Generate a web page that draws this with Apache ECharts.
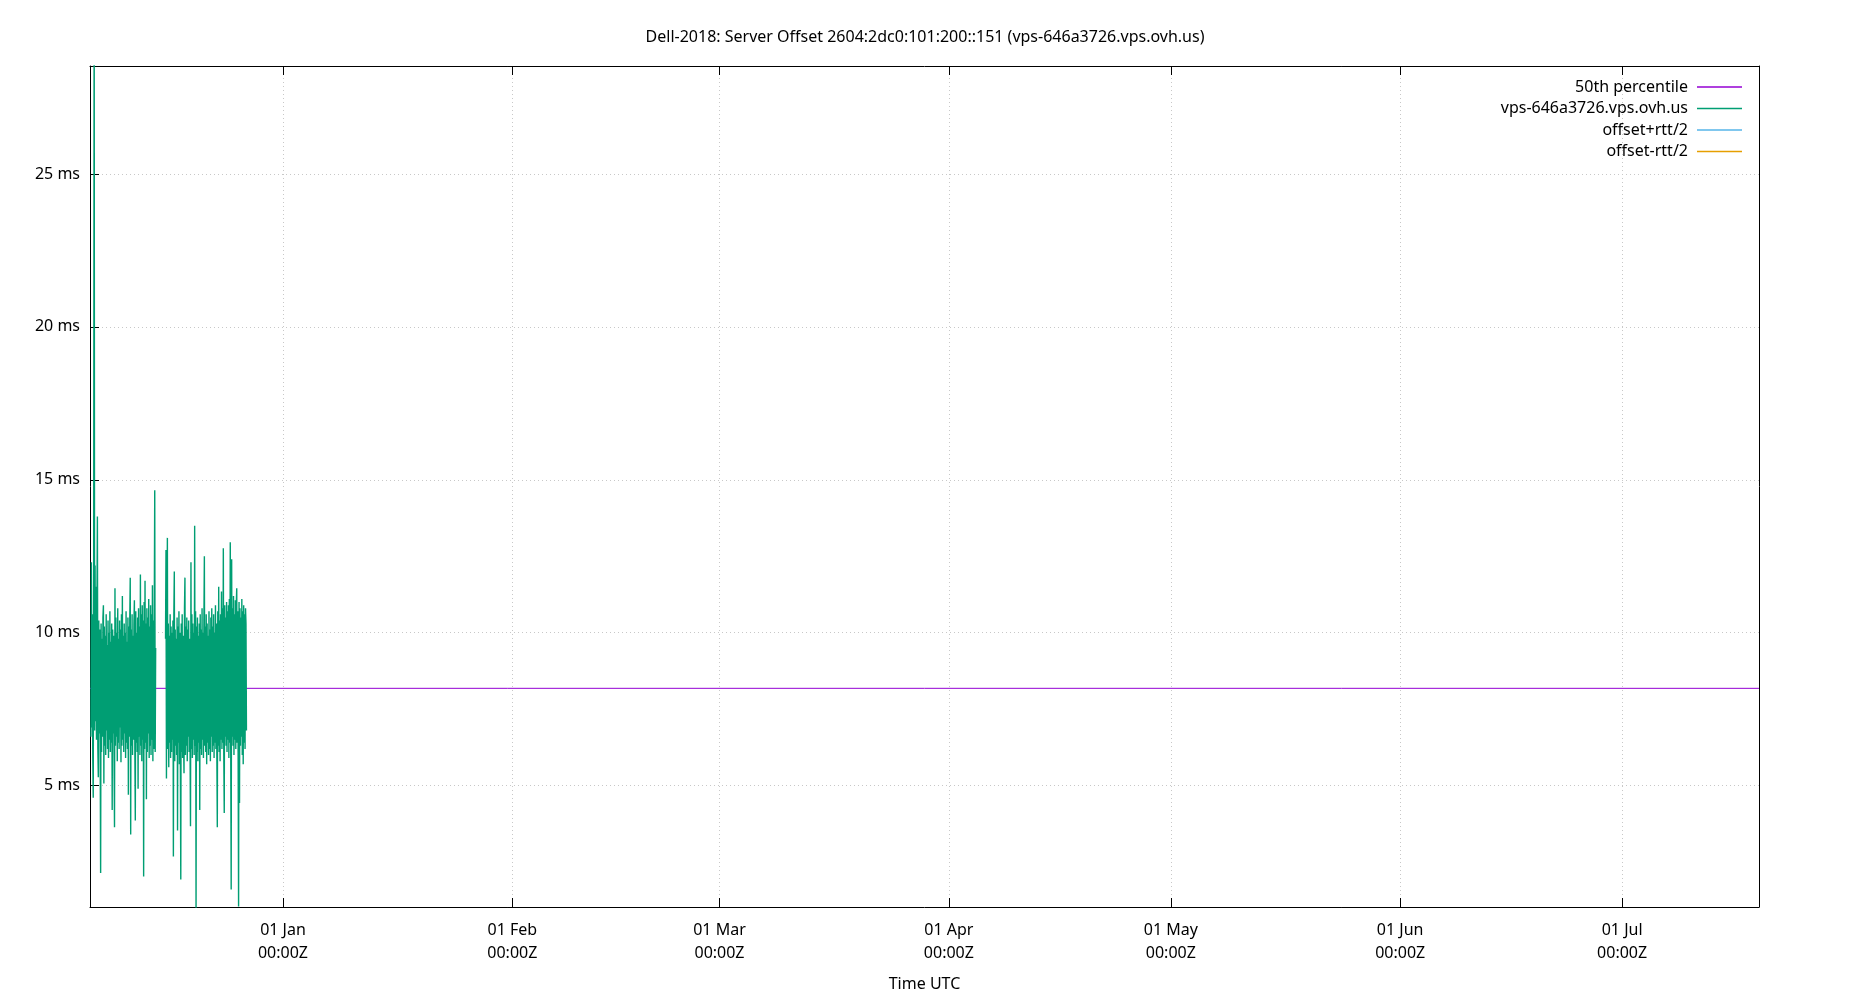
<!DOCTYPE html>
<html>
<head>
<meta charset="utf-8">
<script src="https://cdn.jsdelivr.net/npm/echarts@6/dist/echarts.min.js"></script>
<style>
html,body{margin:0;padding:0;background:#fff;}
#chart{width:1850px;height:1000px;}
</style>
</head>
<body>
<div id="chart"></div>
<script>
// ---- Data ----
var titleText = 'Dell-2018: Server Offset 2604:2dc0:101:200::151 (vps-646a3726.vps.ovh.us)';
var seriesNames = ['50th percentile', 'vps-646a3726.vps.ovh.us', 'offset+rtt/2', 'offset-rtt/2'];
var xRange = [Date.UTC(2018, 11, 5, 22, 0), Date.UTC(2019, 6, 19, 12, 0)];
var yRange = [1.03, 28.53];
var yTickValues = [5, 10, 15, 20, 25];
var xTickDates = [Date.UTC(2019,0,1), Date.UTC(2019,1,1), Date.UTC(2019,2,1), Date.UTC(2019,3,1),
                  Date.UTC(2019,4,1), Date.UTC(2019,5,1), Date.UTC(2019,6,1)];
var monthNames = ['Jan','Feb','Mar','Apr','May','Jun','Jul','Aug','Sep','Oct','Nov','Dec'];
var medianValue = 8.18;
var sampleStepHours = 1.5;
var seg1Start = Date.UTC(2018, 11, 6, 1, 0);
var seg1Values = [
6.6,12.3,6.9,10.6,5.9,4.6,12.4,32,6.8,12.2,7.1,11.5,6.5,10.9,13.8,6.2,5.27,10.4,6.7,10.1,
6.4,2.14,10.3,6.1,9.8,6.6,10.5,10.9,5.07,10.2,6.3,9.9,6.0,10.6,6.8,9.6,6.2,10.4,5.9,10.0,
6.5,10.7,6.1,9.7,6.4,10.3,4.2,10.1,6.7,9.9,6.0,3.64,11.45,6.3,10.5,6.6,10.0,5.8,10.8,6.4,
9.8,6.2,10.4,6.9,10.1,5.76,10.6,6.3,11.2,6.5,9.9,6.1,10.3,6.7,10.0,5.9,10.7,6.4,9.7,6.2,
10.5,4.7,10.2,6.6,10.4,11.8,3.4,10.1,6.3,10.6,6.0,9.9,6.5,10.3,11.06,6.2,3.86,10.7,6.4,10.0,
6.1,10.5,4.9,10.8,6.6,10.2,6.0,11.9,6.3,10.6,5.8,10.9,6.5,10.4,2.03,11.0,6.2,11.7,6.4,10.3,
4.55,10.8,6.1,10.5,6.7,11.1,5.9,10.2,6.3,10.9,6.0,10.6,6.5,11.55,5.8,10.4,6.2,10.7,14.66,6.1,
9.5
];
var seg2Start = Date.UTC(2018, 11, 16, 3, 0);
var seg2Values = [
9.8,12.7,5.23,10.1,13.1,6.2,10.3,5.6,9.9,6.4,10.6,5.9,10.2,6.1,10.0,6.5,10.4,2.68,10.6,12.0,
5.8,10.1,6.3,9.8,6.0,10.5,3.53,10.2,6.4,10.7,5.7,10.0,6.2,1.93,10.3,6.1,10.6,5.9,9.9,6.5,
5.4,10.8,11.8,6.0,10.2,6.3,10.5,5.8,10.1,6.6,10.4,6.1,9.8,6.4,3.67,12.3,6.2,10.6,5.9,10.3,
6.5,10.0,6.0,13.5,6.3,10.7,0.8,10.2,6.1,10.5,5.8,9.9,6.4,10.3,4.2,10.6,6.2,10.1,6.0,10.8,
6.5,10.0,5.9,10.4,12.5,6.3,10.2,6.1,10.6,5.7,10.3,6.4,9.9,6.0,10.7,6.2,10.1,5.8,10.5,6.6,
10.8,6.1,10.2,6.3,10.6,5.9,10.0,6.4,10.9,6.2,10.3,6.0,3.64,10.7,6.3,11.5,6.1,10.4,5.8,10.6,
6.5,11.35,6.2,10.8,6.4,12.76,6.0,4.1,10.9,6.6,10.5,6.3,11.0,6.1,10.7,6.5,10.9,5.9,11.1,6.4,
12.96,6.2,1.6,12.4,6.6,10.8,6.3,11.2,6.0,10.6,6.5,11.06,6.2,10.9,11.45,6.4,10.7,6.1,1.05,11.0,
4.43,10.8,6.3,10.5,6.6,11.1,6.0,10.7,5.7,10.9,6.4,10.6,6.2,10.8,10.3,6.8
];
var offsetPlusValues = [];
var offsetMinusValues = [];
var colors = ['#9400d3', '#009e73', '#56b4e9', '#e69f00'];

// ---- Build ----
var stepMs = sampleStepHours * 3600 * 1000;
var serverData = [];
seg1Values.forEach(function (v, i) { serverData.push([seg1Start + i * stepMs, v]); });
serverData.push([(seg1Start + (seg1Values.length - 1) * stepMs + seg2Start) / 2, null]);
seg2Values.forEach(function (v, i) { serverData.push([seg2Start + i * stepMs, v]); });
var medianData = [[xRange[0], medianValue], [xRange[1], medianValue]];

var FONT = '"Noto Sans", "Open Sans", sans-serif';
function fmtX(v) {
  var d = new Date(v);
  var dd = ('0' + d.getUTCDate()).slice(-2);
  return dd + ' ' + monthNames[d.getUTCMonth()] + '\n00:00Z';
}
var gridLine = { show: true, lineStyle: { color: '#c8c8c8', width: 1, type: [1, 3] } };

var chart = echarts.init(document.getElementById('chart'), null, { renderer: 'canvas' });
chart.setOption({
  animation: false,
  backgroundColor: '#fff',
  color: colors,
  title: {
    text: titleText, left: 'center', top: 24,
    textStyle: { fontFamily: FONT, fontSize: 16, fontWeight: 'normal', color: '#000' }
  },
  legend: {
    orient: 'vertical', right: 103, top: 74, align: 'right',
    icon: 'rect', itemWidth: 45, itemHeight: 1.5, itemGap: 5.5,
    textStyle: { fontFamily: FONT, fontSize: 16, color: '#000', lineHeight: 16, padding: [0, 4, 0, 0] },
    data: seriesNames
  },
  grid: { left: 90, right: 91, top: 66, bottom: 93, containLabel: false },
  xAxis: [{
    type: 'value', min: xRange[0], max: xRange[1], position: 'bottom',
    name: 'Time UTC', nameLocation: 'middle', nameGap: 69,
    nameTextStyle: { fontFamily: FONT, fontSize: 16, color: '#000' },
    axisLine: { show: true, onZero: false, lineStyle: { color: '#000', width: 1 } },
    axisTick: { show: true, inside: true, length: 9, customValues: xTickDates, lineStyle: { color: '#000' } },
    axisLabel: { customValues: xTickDates, formatter: fmtX, fontFamily: FONT, fontSize: 16, color: '#000', lineHeight: 23, margin: 12 },
    splitLine: gridLine
  }, {
    type: 'value', min: xRange[0], max: xRange[1], position: 'top',
    axisLine: { show: true, onZero: false, lineStyle: { color: '#000', width: 1 } },
    axisTick: { show: true, inside: true, length: 9, customValues: xTickDates, lineStyle: { color: '#000' } },
    axisLabel: { show: false }, splitLine: { show: false }
  }],
  yAxis: [{
    type: 'value', min: yRange[0], max: yRange[1], position: 'left',
    axisLine: { show: true, onZero: false, lineStyle: { color: '#000', width: 1 } },
    axisTick: { show: true, inside: true, length: 9, customValues: yTickValues, lineStyle: { color: '#000' } },
    axisLabel: { customValues: yTickValues, formatter: function (v) { return v + ' ms'; }, fontFamily: FONT, fontSize: 16, color: '#000', margin: 10 },
    splitLine: gridLine
  }, {
    type: 'value', min: yRange[0], max: yRange[1], position: 'right',
    axisLine: { show: true, onZero: false, lineStyle: { color: '#000', width: 1 } },
    axisTick: { show: false },
    axisLabel: { show: false }, splitLine: { show: false }
  }],
  series: [
    { name: seriesNames[0], type: 'line', data: medianData, symbol: 'none', lineStyle: { width: 1, color: colors[0] }, itemStyle: { color: colors[0] }, clip: true },
    { name: seriesNames[1], type: 'line', data: serverData, symbol: 'none', connectNulls: false, sampling: null,
      lineStyle: { width: 1.4, color: colors[1] }, itemStyle: { color: colors[1] }, clip: true },
    { name: seriesNames[2], type: 'line', data: offsetPlusValues, symbol: 'none', lineStyle: { width: 1, color: colors[2] }, itemStyle: { color: colors[2] } },
    { name: seriesNames[3], type: 'line', data: offsetMinusValues, symbol: 'none', lineStyle: { width: 1, color: colors[3] }, itemStyle: { color: colors[3] } }
  ]
});
</script>
</body>
</html>
